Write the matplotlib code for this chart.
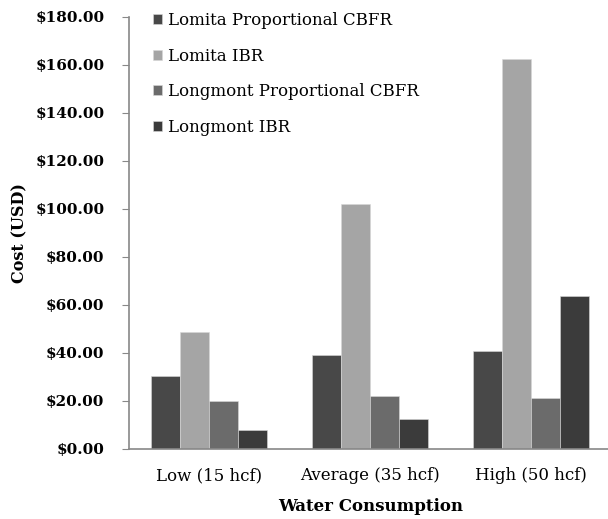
import matplotlib
matplotlib.use("Agg")
import matplotlib.pyplot as plt
import numpy as np

categories = ["Low (15 hcf)", "Average (35 hcf)", "High (50 hcf)"]
series_names = ["Lomita Proportional CBFR", "Lomita IBR",
                "Longmont Proportional CBFR", "Longmont IBR"]
lomita_cbfr = [30.1, 39.0, 40.8]
lomita_ibr = [48.5, 102.1, 162.2]
longmont_cbfr = [19.9, 21.8, 21.1]
longmont_ibr = [7.8, 12.4, 63.7]
yticks = [0, 20, 40, 60, 80, 100, 120, 140, 160, 180]

colors = ["#484848", "#a5a5a5", "#6b6b6b", "#3b3b3b"]
FONT = "DejaVu Serif"

fig = plt.figure(figsize=(6.08, 5.19), dpi=100)
ax = fig.add_axes([128.7 / 608, 1 - 448.7 / 519, 483 / 608, (448.7 - 16.7) / 519])

x = np.arange(len(categories))
w = 0.18
for i, (vals, name) in enumerate(zip([lomita_cbfr, lomita_ibr, longmont_cbfr, longmont_ibr],
                                     series_names)):
    ax.bar(x + (i - 1.5) * w, vals, width=w, color=colors[i], label=name,
           edgecolor="#d8d8d8", linewidth=0.4)

ax.set_xlim(-0.5, 2.5)
ax.set_ylim(0, 180)
ax.set_yticks(yticks)
ax.set_yticklabels([f"${v:.2f}" for v in yticks], fontfamily=FONT,
                   fontweight="bold", fontsize=11)
ax.set_xticks(x)
ax.set_xticklabels(categories, fontfamily=FONT, fontsize=12)
ax.tick_params(axis="x", length=0, pad=13.5)
ax.tick_params(axis="y", length=5, color="#888888", pad=12.5)
for s in ["top", "right"]:
    ax.spines[s].set_visible(False)
for s in ["left", "bottom"]:
    ax.spines[s].set_color("#888888")
    ax.spines[s].set_linewidth(1.2)

ax.set_ylabel("Cost (USD)", fontfamily=FONT, fontweight="bold", fontsize=11.5)
ax.yaxis.set_label_coords(-0.208, 0.5)
ax.set_xlabel("Water Consumption", fontfamily=FONT, fontweight="bold", fontsize=12,
              labelpad=9.5)

ax.legend(loc="upper left", bbox_to_anchor=(153 / 608, 1 - 12 / 519),
          bbox_transform=fig.transFigure, frameon=False,
          prop={"family": FONT, "size": 12}, handlelength=0.55, handleheight=0.55,
          handletextpad=0.35, labelspacing=1.12, borderpad=0, borderaxespad=0)

fig.savefig("out.png", dpi=100)
